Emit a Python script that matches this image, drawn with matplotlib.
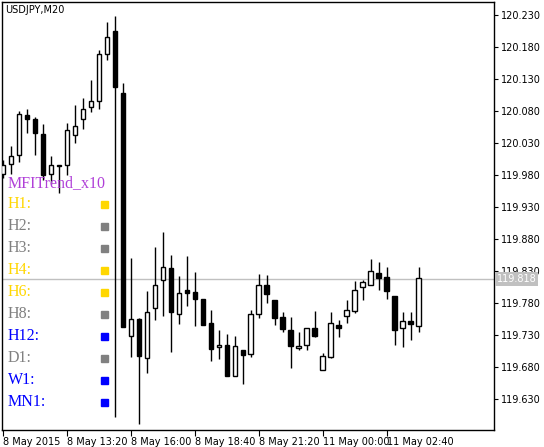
import matplotlib.pyplot as plt
import numpy as np

# USDJPY M20 candles (open, high, low, close)
opens = [119.982, 119.997, 120.011, 120.074, 120.067, 120.044, 119.982, 119.996, 119.996, 120.042,
         120.067, 120.086, 120.096, 120.169, 120.205, 120.108, 119.728, 119.755, 119.694, 119.772,
         119.816, 119.835, 119.763, 119.800, 119.797, 119.786, 119.749, 119.711, 119.714, 119.666,
         119.706, 119.700, 119.763, 119.808, 119.785, 119.758, 119.738, 119.710, 119.714, 119.741,
         119.675, 119.696, 119.746, 119.760, 119.767, 119.805, 119.808, 119.827, 119.821, 119.791,
         119.741, 119.752, 119.744]
highs = [120.003, 120.025, 120.080, 120.083, 120.071, 120.060, 120.010, 119.996, 120.061, 120.089,
         120.100, 120.128, 120.175, 120.219, 120.228, 120.124, 119.850, 119.756, 119.799, 119.868,
         119.891, 119.855, 119.822, 119.853, 119.828, 119.786, 119.769, 119.738, 119.732, 119.728,
         119.706, 119.769, 119.825, 119.824, 119.785, 119.766, 119.758, 119.735, 119.741, 119.767,
         119.702, 119.766, 119.753, 119.785, 119.814, 119.816, 119.849, 119.844, 119.836, 119.791,
         119.766, 119.766, 119.836]
lows = [119.975, 119.982, 120.000, 120.046, 120.011, 119.972, 119.966, 119.952, 119.980, 120.030,
        120.052, 120.078, 120.083, 120.160, 119.602, 119.742, 119.696, 119.591, 119.670, 119.753,
        119.760, 119.703, 119.747, 119.775, 119.744, 119.746, 119.689, 119.692, 119.666, 119.666,
        119.653, 119.696, 119.756, 119.780, 119.746, 119.735, 119.678, 119.706, 119.706, 119.727,
        119.675, 119.694, 119.727, 119.749, 119.764, 119.785, 119.808, 119.800, 119.786, 119.714,
        119.711, 119.722, 119.735]
closes = [119.996, 120.010, 120.075, 120.067, 120.046, 119.980, 119.996, 119.994, 120.050, 120.057,
          120.083, 120.096, 120.169, 120.196, 120.117, 119.742, 119.755, 119.697, 119.766, 119.808,
          119.836, 119.766, 119.796, 119.796, 119.786, 119.746, 119.708, 119.714, 119.666, 119.713,
          119.699, 119.763, 119.808, 119.794, 119.756, 119.739, 119.713, 119.713, 119.741, 119.728,
          119.697, 119.749, 119.741, 119.769, 119.800, 119.813, 119.830, 119.819, 119.799, 119.738,
          119.752, 119.747, 119.819]
last_price = 119.818

time_labels = ["8 May 2015", "8 May 13:20", "8 May 16:00", "8 May 18:40",
               "8 May 21:20", "11 May 00:00", "11 May 02:40"]
price_ticks = [120.230, 120.180, 120.130, 120.080, 120.030, 119.980, 119.930,
               119.880, 119.830, 119.780, 119.730, 119.680, 119.630]

tf_names = ["H1:", "H2:", "H3:", "H4:", "H6:", "H8:", "H12:", "D1:", "W1:", "MN1:"]
tf_colors = ["#FFD700", "#808080", "#808080", "#FFD700", "#FFD700",
             "#808080", "#0000FF", "#808080", "#0000FF", "#0000FF"]

fig = plt.figure(figsize=(5.44, 4.47), dpi=100)
ax = fig.add_axes([2 / 544, 17 / 447, 492 / 544, 428 / 447])

x = np.arange(len(opens))
o = np.array(opens); c = np.array(closes)
ax.vlines(x, lows, highs, color='black', linewidth=1, zorder=2)
body_bottom = np.minimum(o, c)
body_h = np.maximum(np.abs(c - o), 0.0008)
face = ['white' if cc >= oo else 'black' for oo, cc in zip(o, c)]
ax.bar(x, body_h, bottom=body_bottom, width=0.6, color=face,
       edgecolor='black', linewidth=1, zorder=3)

ax.axhline(last_price, color='#c0c0c0', linewidth=1, zorder=1)

ax.set_xlim(-0.125, 61.4)
ax.set_ylim(119.5816, 120.2503)
ax.set_xticks(np.arange(0, 56, 8))
ax.set_xticklabels(time_labels, fontsize=7, ha='left')
ax.tick_params(axis='x', length=4, pad=1)
ax.yaxis.tick_right()
ax.set_yticks(price_ticks)
ax.set_yticklabels([f"{p:.3f}" for p in price_ticks], fontsize=7)
ax.tick_params(axis='y', length=3, pad=2)
for s in ax.spines.values():
    s.set_linewidth(1)

# last price marker on the price scale
ax.text(1.005, last_price, f"{last_price:.3f}", transform=ax.get_yaxis_transform(),
        fontsize=7, color='white', va='center', ha='left',
        bbox=dict(boxstyle='square,pad=0.2', fc='#c0c0c0', ec='none'), zorder=5, clip_on=False)

ax.text(0.006, 0.993, "USDJPY,M20", transform=ax.transAxes, fontsize=7, va='top', ha='left')

# indicator panel
fig.text(8 / 544, 1 - 183 / 447, "MFITrend_x10", color='#B040D8', fontsize=11.5,
         family='Liberation Serif', va='center', ha='left')
for i, (nm, col) in enumerate(zip(tf_names, tf_colors)):
    yy = 1 - (204 + i * 22) / 447
    fig.text(8 / 544, yy, nm, color=col, fontsize=11.5, family='Liberation Serif',
             va='center', ha='left')
    fig.patches.append(plt.Rectangle((101 / 544, yy - 3.5 / 447), 7 / 544, 7 / 447,
                                     transform=fig.transFigure, color=col, zorder=6))

fig.savefig("out.png", dpi=100)
